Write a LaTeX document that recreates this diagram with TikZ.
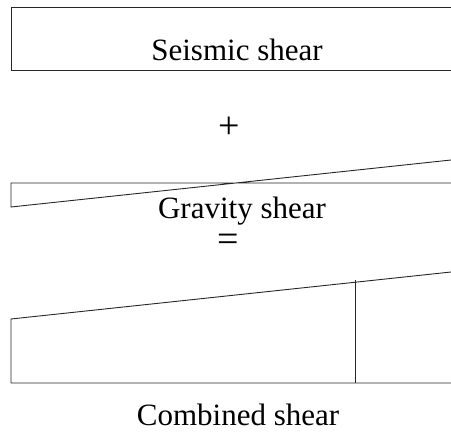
\documentclass[tikz,border=0pt]{standalone}
\usepackage{fontspec}
\setmainfont{Liberation Serif}
\tikzset{
  shearline/.style={draw=black!85, line width=0.9pt},
  label/.style={font=\fontsize{31}{31}\selectfont, inner sep=0pt, anchor=base},
  sign/.style={font=\fontsize{38}{38}\selectfont, inner sep=0pt}
}
\begin{document}
\begin{tikzpicture}[x=1pt,y=-1pt]
\useasboundingbox (0,0) rectangle (451,432);
% Seismic shear
\draw[shearline] (451,7) -- (11,7) -- (11,70) -- (451,70);
\node[label] (seis) at (237,60) {Seismic shear};
% plus
\node[sign] (plus) at (229,128) {+};
% Gravity shear
\draw[shearline] (451,183) -- (11,183) -- (11,207) -- (451,160);
\node[label] (grav) at (242,218) {Gravity shear};
% equals
\node[sign] (eq) at (228,243) {=};
% Combined shear
\draw[shearline] (451,272) -- (11,319) -- (11,383) -- (451,383);
\draw[shearline] (355,280) -- (355,383);
\node[label] (comb) at (238,425) {Combined shear};
\end{tikzpicture}
\end{document}
